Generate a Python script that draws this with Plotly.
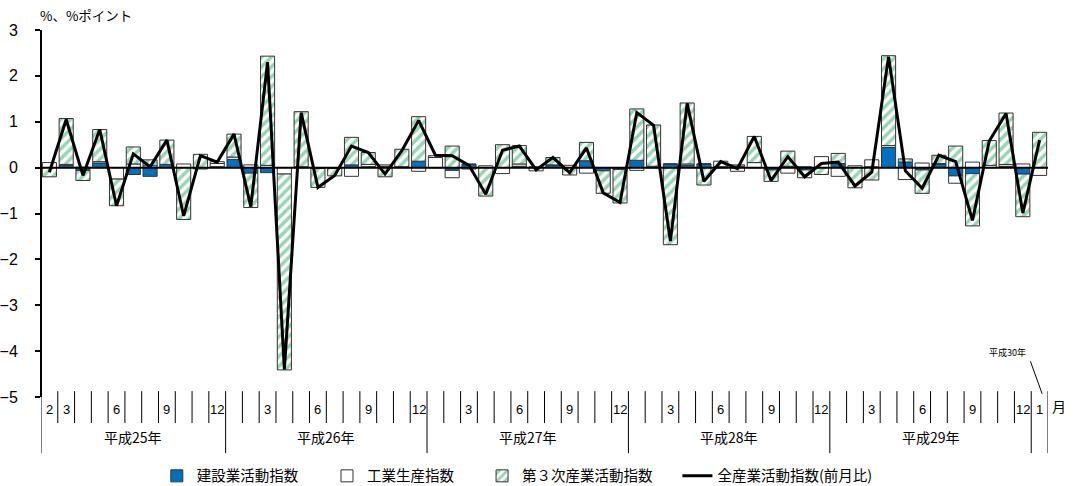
import plotly.graph_objects as go

# ---- data (平成25年2月〜平成30年1月) ----
categories = [f"{y}-{m:02d}" for y, m in
              [(2013, m) for m in range(2, 13)] + [(y, m) for y in (2014, 2015, 2016, 2017) for m in range(1, 13)] + [(2018, 1)]]

construction = [0.00, 0.05, -0.06, 0.10, 0.00, -0.15, -0.19, 0.07, 0.00, 0.00, 0.02,
                0.18, -0.12, -0.11, 0.00, 0.00, 0.00, 0.00, 0.06, 0.02, 0.03, 0.02, 0.14,
                0.00, -0.06, 0.07, 0.00, 0.00, 0.03, 0.00, 0.06, 0.00, 0.15, -0.07, -0.04,
                0.16, 0.00, 0.08, 0.05, 0.08, 0.00, 0.03, 0.00, -0.05, 0.03, -0.05, 0.00,
                0.09, 0.00, 0.02, 0.44, 0.12, -0.05, 0.07, -0.18, -0.13, 0.00, 0.03, -0.14,
                0.00]
industrial = [0.11, 0.02, 0.01, 0.03, -0.25, 0.08, 0.04, 0.00, 0.08, -0.03, 0.07,
              0.05, 0.06, 0.05, -0.14, 0.02, -0.02, -0.02, -0.19, 0.05, 0.03, 0.00, -0.08,
              0.22, -0.16, -0.03, 0.04, -0.13, 0.05, -0.07, 0.00, 0.05, -0.12, 0.00, 0.00,
              -0.06, 0.03, 0.00, 0.03, 0.00, 0.02, -0.08, 0.11, 0.00, -0.12, 0.02, 0.24,
              -0.19, 0.04, 0.15, 0.04, -0.26, 0.10, 0.02, -0.16, 0.12, 0.05, 0.04, 0.08,
              -0.17]
tertiary = [-0.20, 1.00, -0.22, 0.70, -0.58, 0.37, 0.13, 0.53, -1.13, 0.29, 0.04,
            0.50, -0.75, 2.38, -4.27, 1.20, -0.41, -0.16, 0.60, 0.26, -0.20, 0.38, 0.97,
            0.04, 0.47, 0.01, -0.62, 0.50, 0.40, 0.02, 0.16, -0.16, 0.40, -0.49, -0.73,
            1.12, 0.90, -1.68, 1.33, -0.38, 0.12, 0.03, 0.57, -0.25, 0.33, -0.17, -0.15,
            0.22, -0.44, -0.27, 1.96, 0.07, -0.51, 0.18, 0.47, -1.14, 0.54, 1.12, -0.93,
            0.77]
all_industry = [-0.10, 1.05, -0.17, 0.83, -0.83, 0.30, 0.02, 0.60, -1.05, 0.26, 0.12,
                0.73, -0.85, 2.30, -4.40, 1.20, -0.43, -0.17, 0.47, 0.33, -0.14, 0.37, 1.03,
                0.27, 0.26, 0.05, -0.58, 0.38, 0.47, -0.05, 0.22, -0.11, 0.43, -0.55, -0.76,
                1.20, 0.92, -1.60, 1.40, -0.30, 0.13, -0.02, 0.68, -0.28, 0.24, -0.20, 0.09,
                0.12, -0.40, -0.10, 2.42, -0.07, -0.45, 0.27, 0.13, -1.15, 0.58, 1.18, -0.99,
                0.60]

month_labels = ["2", "3", "", "", "6", "", "", "9", "", "", "12",
                "", "", "3", "", "", "6", "", "", "9", "", "", "12",
                "", "", "3", "", "", "6", "", "", "9", "", "", "12",
                "", "", "3", "", "", "6", "", "", "9", "", "", "12",
                "", "", "3", "", "", "6", "", "", "9", "", "", "12",
                "1"]
year_labels = ["平成25年", "平成26年", "平成27年", "平成28年", "平成29年"]
year_months = [11, 12, 12, 12, 12]  # months per year segment (last segment: 平成30年1月)

series_names = ["建設業活動指数", "工業生産指数", "第３次産業活動指数", "全産業活動指数(前月比)"]
legend_x = [0.115, 0.284, 0.438, 0.632]

JP = "Noto Sans CJK JP"
NUM = "Liberation Sans"
OUTLINE = "#333333"

fig = go.Figure()
fig.add_trace(go.Bar(x=categories, y=construction, name=series_names[0], legend="legend",
                     marker=dict(color="#0070C0", line=dict(color=OUTLINE, width=1))))
fig.add_trace(go.Bar(x=categories, y=industrial, name=series_names[1], legend="legend2",
                     marker=dict(color="#FFFFFF", line=dict(color=OUTLINE, width=1))))
fig.add_trace(go.Bar(x=categories, y=tertiary, name=series_names[2], legend="legend3",
                     marker=dict(color="#FFFFFF", line=dict(color=OUTLINE, width=1),
                                 pattern=dict(shape="/", fgcolor="#2EAC66", bgcolor="#FFFFFF",
                                              size=7, solidity=0.5))))
fig.add_trace(go.Scatter(x=categories, y=all_industry, name=series_names[3], mode="lines",
                         legend="legend4", line=dict(color="black", width=3)))

shapes = []
annotations = []
n = len(categories)

# zero line on top
shapes.append(dict(type="line", xref="paper", yref="y", x0=0, x1=1, y0=0, y1=0,
                   line=dict(color="black", width=2), layer="above"))

# month ticks table
year_bounds = [-0.5]
acc = -0.5
for k in year_months:
    acc += k
    year_bounds.append(acc)
year_bounds.append(n - 0.5)
for i in range(n + 1):
    b = i - 0.5
    is_year = any(abs(b - yb) < 1e-6 for yb in year_bounds)
    shapes.append(dict(type="line", xref="x", yref="paper", x0=b, x1=b,
                       y0=0.016, y1=(-0.153 if is_year else -0.071),
                       line=dict(color="black", width=1)))
for i, lab in enumerate(month_labels):
    if lab:
        annotations.append(dict(x=categories[i], y=-0.060, xref="x", yref="paper", text=lab,
                                showarrow=False, font=dict(family=NUM, size=13, color="black")))
for j, lab in enumerate(year_labels):
    c = (year_bounds[j] + year_bounds[j + 1]) / 2
    annotations.append(dict(x=c, y=-0.142, xref="x", yref="paper", text=lab, showarrow=False,
                            font=dict(family=JP, size=14, color="black")))

annotations.append(dict(x=1.02, y=-0.057, xref="paper", yref="paper", text="月", showarrow=False,
                        font=dict(family=JP, size=14, color="black")))
annotations.append(dict(x=-0.003, y=1.04, xref="paper", yref="paper", text="%、%ポイント",
                        showarrow=False, xanchor="left", yanchor="middle",
                        font=dict(family=JP, size=13.5, color="black")))
annotations.append(dict(x=n - 2.9, y=-4.03, xref="x", yref="y", text="平成30年", showarrow=False,
                        font=dict(family=JP, size=9, color="black")))
shapes.append(dict(type="line", xref="x", yref="y", x0=n - 1.55, y0=-4.22, x1=n - 0.85, y1=-4.93,
                   line=dict(color="black", width=1)))
# y axis line extension into table
shapes.append(dict(type="line", xref="paper", yref="paper", x0=0, x1=0, y0=0, y1=1,
                   line=dict(color="black", width=2)))

legend_common = dict(orientation="h", xanchor="left", y=-0.215, yanchor="middle",
                     font=dict(family=JP, size=14.5, color="black"), itemwidth=30,
                     bgcolor="rgba(0,0,0,0)")
legends = {}
for k, lx in enumerate(legend_x):
    key = "legend" if k == 0 else f"legend{k + 1}"
    legends[key] = dict(legend_common, x=lx)

fig.update_layout(
    width=1081, height=486,
    margin=dict(l=41, r=33, t=30, b=89, autoexpand=False),
    plot_bgcolor="white", paper_bgcolor="white",
    barmode="relative", bargap=0.16,
    showlegend=True,
    shapes=shapes, annotations=annotations,
    font=dict(family=NUM, color="black"),
    **legends,
)
fig.update_xaxes(type="category", showticklabels=False, ticks="", showgrid=False,
                 zeroline=False, showline=False, range=[-0.5, n - 0.5])
fig.update_yaxes(range=[-5, 3], dtick=1, showgrid=False, zeroline=False, showline=False,
                 ticks="outside", ticklen=5, tickcolor="black", tickwidth=1.5,
                 ticklabelstandoff=14,
                 tickfont=dict(family=NUM, size=16, color="black"))

fig.write_html("out.html", config={"displayModeBar": False},
               post_script="document.body.style.margin='0px';document.body.style.overflow='hidden';")
